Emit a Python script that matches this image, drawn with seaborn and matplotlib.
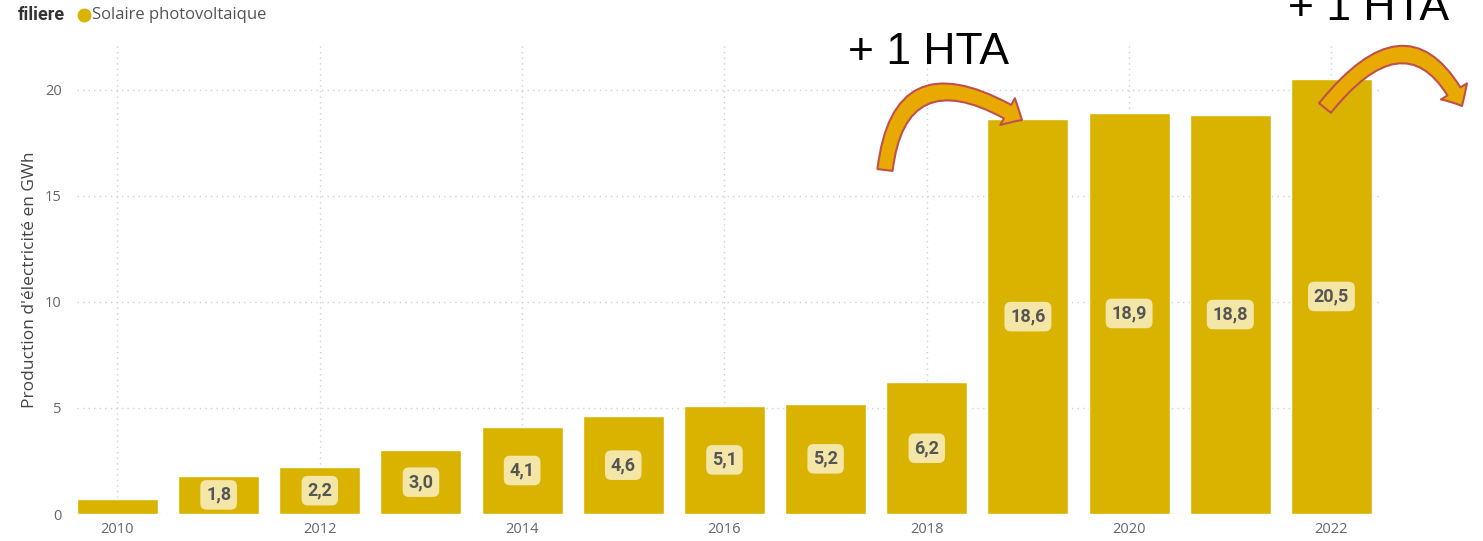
import matplotlib
matplotlib.use("Agg")
import matplotlib.pyplot as plt
import seaborn as sns
import pandas as pd
from matplotlib.patches import FancyArrowPatch
from matplotlib.lines import Line2D
from matplotlib.path import Path

years = ["2010", "2011", "2012", "2013", "2014", "2015", "2016",
         "2017", "2018", "2019", "2020", "2021", "2022"]
values = [0.7, 1.8, 2.2, 3.0, 4.1, 4.6, 5.1, 5.2, 6.2, 18.6, 18.9, 18.8, 20.5]
labels = [None, "1,8", "2,2", "3,0", "4,1", "4,6", "5,1", "5,2", "6,2",
          "18,6", "18,9", "18,8", "20,5"]
xtick_labels = ["2010", "2012", "2014", "2016", "2018", "2020", "2022"]
yticks = [0, 5, 10, 15, 20]
legend_title = "filiere"
series_name = "Solaire photovoltaique"
ylabel = "Production d'électricité en GWh"
annotation = "+ 1 HTA"

BAR = "#D9B300"
SANS = ["Open Sans", "DejaVu Sans"]
BOLD = ["Roboto", "DejaVu Sans"]

sns.set_theme(style="white")
plt.rcParams["font.family"] = SANS

fig = plt.figure(figsize=(14.83, 5.41), dpi=100)
W, H = 1483, 541
ax = fig.add_axes([77 / W, 1 - 514 / H, (1380 - 77) / W, (514 - 45) / H])

df = pd.DataFrame({"annee": years, "valeur": values})
sns.barplot(data=df, x="annee", y="valeur", color=BAR, saturation=1,
            width=0.8, ax=ax, zorder=2)

ax.set_xlim(-0.4, 12.48)
ax.set_ylim(0, 22.1)

ax.set_yticks(yticks)
ax.set_yticklabels([str(v) for v in yticks])
xt = [years.index(y) for y in xtick_labels]
ax.set_xticks(xt)
ax.set_xticklabels(xtick_labels)
ax.grid(axis="both", color="#CFCFCF", linestyle=(0, (1, 3)), linewidth=1.0, zorder=0)
ax.set_axisbelow(True)
for s in ax.spines.values():
    s.set_visible(False)
ax.tick_params(axis="both", length=0, colors="#666666", labelsize=10.5)
ax.tick_params(axis="x", pad=6)
ax.tick_params(axis="y", pad=11)
ax.set_xlabel("")
ax.set_ylabel(ylabel, fontsize=12.5, color="#444444", labelpad=5)

# value labels
for i, (v, lab) in enumerate(zip(values, labels)):
    if lab is None:
        continue
    ax.text(i, v / 2, lab, ha="center", va="center", fontsize=13,
            fontweight="bold", color="#555555", zorder=4, family=BOLD,
            bbox=dict(boxstyle="round,pad=0.32,rounding_size=0.35",
                      fc="#F3E6A6", ec="none"))

# legend
fig.text(18 / W, 1 - 15 / H, legend_title, fontsize=13, fontweight="bold",
         color="#333333", va="center", ha="left", family=BOLD)
fig.add_artist(Line2D([84 / W], [1 - 15 / H], marker="o", markersize=9,
                      color=BAR, transform=fig.transFigure, linestyle="none"))
fig.text(92 / W, 1 - 15 / H, series_name, fontsize=12, color="#555555",
         va="center", ha="left")

# annotations
fig.text(848 / W, 1 - 64 / H, annotation, fontsize=32, color="black",
         ha="left", va="baseline", family=["Liberation Sans", "DejaVu Sans"])
fig.text(1288 / W, 1 - 20 / H, annotation, fontsize=32, color="black",
         ha="left", va="baseline", family=["Liberation Sans", "DejaVu Sans"])

style = "simple,head_width=22,head_length=12,tail_width=11"
arrows = [[(885, 170), (900, 45), (1022, 120)],
          [(1325, 108), (1410, 2), (1462, 106)]]
for pts in arrows:
    verts = [(x / W, 1 - y / H) for x, y in pts]
    path = Path(verts, [Path.MOVETO, Path.CURVE3, Path.CURVE3])
    arr = FancyArrowPatch(path=path, transform=fig.transFigure,
                          arrowstyle=style, fc="#E8AA00", ec="#C0504D",
                          lw=1.5, zorder=10)
    fig.add_artist(arr)

fig.savefig("out.png", dpi=100)
